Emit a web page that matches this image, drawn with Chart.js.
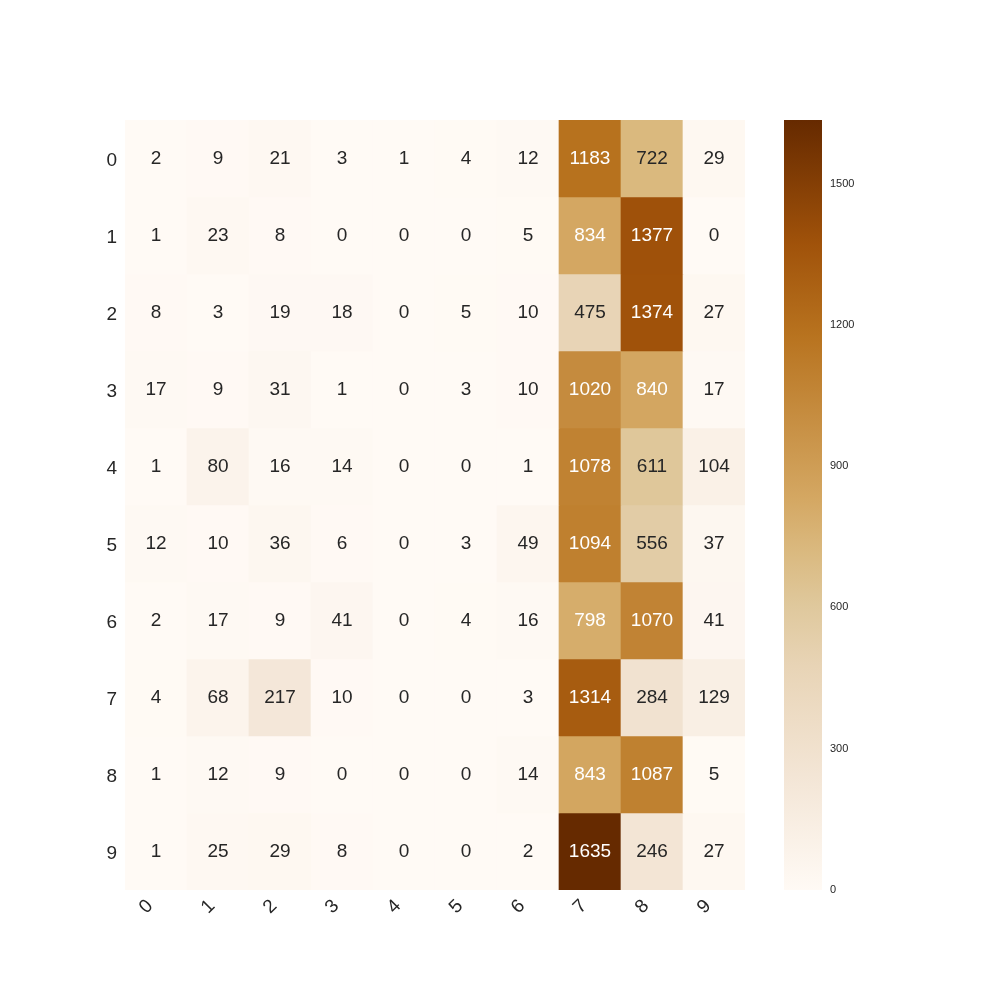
<!DOCTYPE html>
<html>
<head>
<meta charset="utf-8">
<script src="https://cdn.jsdelivr.net/npm/chart.js@4.4.0/dist/chart.umd.min.js"></script>
<style>
  html, body { margin: 0; padding: 0; background: #ffffff; }
  #wrap { position: relative; width: 1000px; height: 1000px; }
  #wrap canvas { position: absolute; left: 0; top: 0; }
</style>
</head>
<body>
<div id="wrap">
  <canvas id="heat" width="1000" height="1000"></canvas>
  <canvas id="cbar" width="1000" height="1000"></canvas>
</div>
<script>
// labels for rows (true) and columns (predicted)
const rowLabels = ['0', '1', '2', '3', '4', '5', '6', '7', '8', '9'];
const colLabels = ['0', '1', '2', '3', '4', '5', '6', '7', '8', '9'];

// one array per row
const row0 = [2, 9, 21, 3, 1, 4, 12, 1183, 722, 29];
const row1 = [1, 23, 8, 0, 0, 0, 5, 834, 1377, 0];
const row2 = [8, 3, 19, 18, 0, 5, 10, 475, 1374, 27];
const row3 = [17, 9, 31, 1, 0, 3, 10, 1020, 840, 17];
const row4 = [1, 80, 16, 14, 0, 0, 1, 1078, 611, 104];
const row5 = [12, 10, 36, 6, 0, 3, 49, 1094, 556, 37];
const row6 = [2, 17, 9, 41, 0, 4, 16, 798, 1070, 41];
const row7 = [4, 68, 217, 10, 0, 0, 3, 1314, 284, 129];
const row8 = [1, 12, 9, 0, 0, 0, 14, 843, 1087, 5];
const row9 = [1, 25, 29, 8, 0, 0, 2, 1635, 246, 27];
const rows = [row0, row1, row2, row3, row4, row5, row6, row7, row8, row9];

const colorbarTicks = [0, 300, 600, 900, 1200, 1500];
const vmin = 0;
const vmax = 1635;

// colour map stops (fraction, rgb)
const cmapStops = [
  [0.00, [255, 250, 245]],
  [0.15, [243, 229, 213]],
  [0.29, [232, 212, 182]],
  [0.37, [223, 200, 156]],
  [0.44, [218, 185, 127]],
  [0.51, [212, 167, 98]],
  [0.66, [192, 130, 50]],
  [0.72, [184, 115, 31]],
  [0.84, [160, 82, 10]],
  [1.00, [102, 42, 0]]
];

function cmap(v) {
  const t = Math.max(0, Math.min(1, (v - vmin) / (vmax - vmin)));
  for (let i = 1; i < cmapStops.length; i++) {
    const [t1, c1] = cmapStops[i];
    const [t0, c0] = cmapStops[i - 1];
    if (t <= t1) {
      const f = (t - t0) / (t1 - t0);
      const c = c0.map((x, k) => Math.round(x + (c1[k] - x) * f));
      return `rgb(${c[0]}, ${c[1]}, ${c[2]})`;
    }
  }
  const c = cmapStops[cmapStops.length - 1][1];
  return `rgb(${c[0]}, ${c[1]}, ${c[2]})`;
}

const fontFamily = '"Liberation Sans", Arial, sans-serif';

// one floating-bar dataset per row: bar spans [r, r+1] on the y axis
const datasets = rows.map((vals, r) => ({
  label: rowLabels[r],
  data: vals.map(() => [r, r + 1]),
  values: vals,
  backgroundColor: vals.map(v => cmap(v)),
  borderWidth: 0,
  barPercentage: 1.0,
  categoryPercentage: 1.0,
  grouped: false
}));

// write the numbers into each cell
const cellText = {
  id: 'cellText',
  afterDatasetsDraw(chart) {
    const ctx = chart.ctx;
    ctx.save();
    ctx.font = '19px ' + fontFamily;
    ctx.textAlign = 'center';
    ctx.textBaseline = 'middle';
    chart.data.datasets.forEach((ds, di) => {
      const meta = chart.getDatasetMeta(di);
      meta.data.forEach((bar, i) => {
        const v = ds.values[i];
        const p = bar.getProps(['x', 'y', 'base'], true);
        ctx.fillStyle = v > 760 ? '#ffffff' : '#262626';
        ctx.fillText(String(v), p.x, (p.y + p.base) / 2);
      });
    });
    ctx.restore();
  }
};

new Chart(document.getElementById('heat'), {
  type: 'bar',
  data: { labels: colLabels, datasets: datasets },
  options: {
    responsive: false,
    animation: false,
    layout: { padding: { top: 120, right: 255, left: 0, bottom: 0 } },
    plugins: { legend: { display: false }, tooltip: { enabled: false } },
    scales: {
      x: {
        grid: { display: false, drawTicks: false },
        border: { display: false },
        ticks: {
          color: '#262626',
          font: { size: 19, family: fontFamily },
          minRotation: 45,
          maxRotation: 45,
          padding: 5,
          labelOffset: -6
        },
        afterFit(scale) { scale.height = 110; }
      },
      y: {
        reverse: true,
        min: 0,
        max: 10,
        grid: { display: false, drawTicks: false },
        border: { display: false },
        afterBuildTicks(scale) {
          scale.ticks = rowLabels.map((_, i) => ({ value: i + 0.5 }));
        },
        ticks: {
          color: '#262626',
          font: { size: 19, family: fontFamily },
          padding: 8,
          labelOffset: 2,
          callback: (val) => rowLabels[Math.floor(val)]
        },
        afterFit(scale) { scale.width = 125; }
      }
    }
  },
  plugins: [cellText]
});

// colour bar as a single floating bar with a gradient fill
new Chart(document.getElementById('cbar'), {
  type: 'bar',
  data: {
    labels: [''],
    datasets: [{
      data: [[vmin, vmax]],
      borderWidth: 0,
      barPercentage: 1.0,
      categoryPercentage: 1.0,
      backgroundColor(context) {
        const area = context.chart.chartArea;
        if (!area) return 'rgba(0,0,0,0)';
        const g = context.chart.ctx.createLinearGradient(0, area.bottom, 0, area.top);
        cmapStops.forEach(([t, c]) => g.addColorStop(t, `rgb(${c[0]}, ${c[1]}, ${c[2]})`));
        return g;
      }
    }]
  },
  options: {
    responsive: false,
    animation: false,
    layout: { padding: { top: 120, left: 784, bottom: 110, right: 0 } },
    plugins: { legend: { display: false }, tooltip: { enabled: false } },
    scales: {
      x: { display: false },
      y: {
        position: 'right',
        min: vmin,
        max: vmax,
        grid: { display: false, drawTicks: false },
        border: { display: false },
        afterBuildTicks(scale) {
          scale.ticks = colorbarTicks.map(v => ({ value: v }));
        },
        ticks: {
          color: '#262626',
          font: { size: 11, family: fontFamily },
          padding: 8,
          callback: (val) => String(val)
        },
        afterFit(scale) { scale.width = 178; }
      }
    }
  }
});
</script>
</body>
</html>
